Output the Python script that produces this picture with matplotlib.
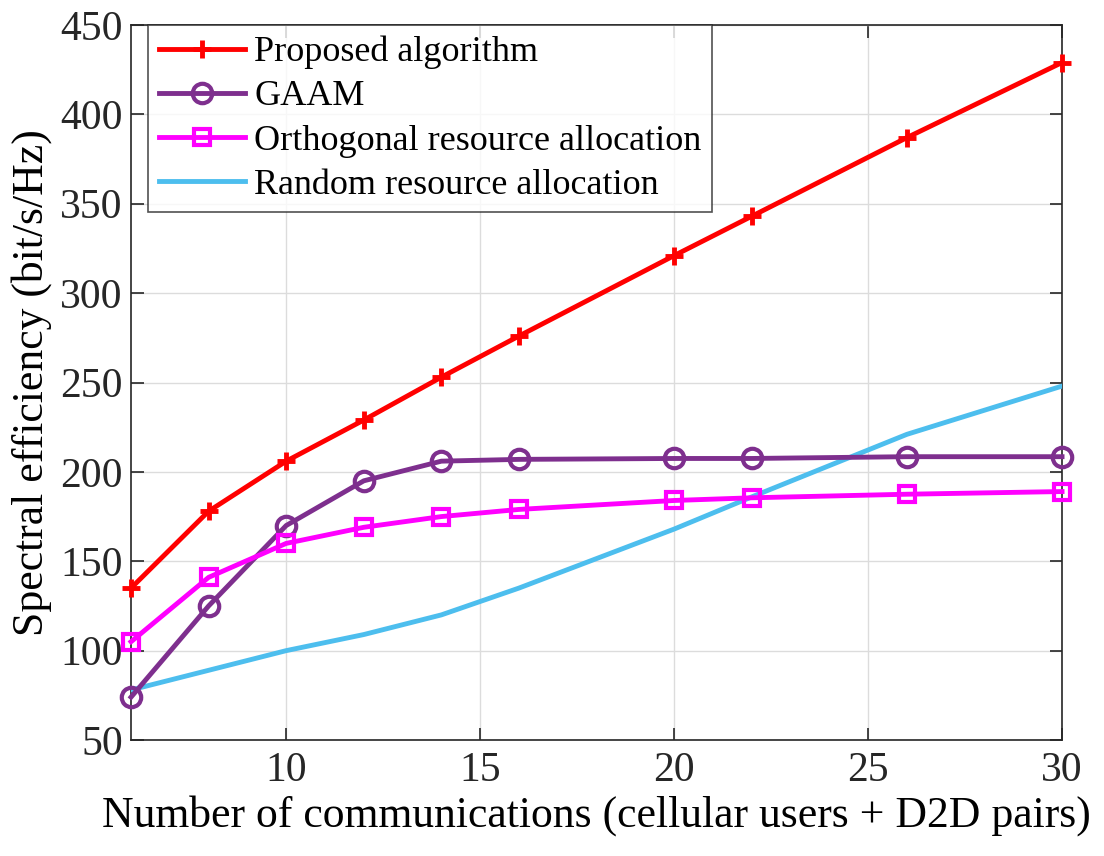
import matplotlib
matplotlib.use('Agg')
from matplotlib import pyplot as plt

# data
x = [6, 8, 10, 12, 14, 16, 20, 22, 26, 30]
proposed = [135, 178, 206, 229, 253, 276, 321, 343, 387, 429]
gaam = [74, 125, 170, 195, 206, 207, 207.5, 207.5, 208.5, 208.5]
orthogonal = [105, 141, 160, 169, 175, 179, 184, 185.5, 187.5, 189]
random_alloc = [78, 89, 100, 109, 120, 135, 168, 186, 221, 248]

plt.rcParams['font.family'] = ['Liberation Serif', 'DejaVu Serif']

fig = plt.figure(figsize=(11.04, 8.56), dpi=100)
ax = fig.add_axes([0.1187, 0.1355, 0.8433, 0.8353])

ax.plot(x, proposed, c='#ff0000', lw=3.5, marker='+', ms=13, mew=3.5,
        label='Proposed algorithm', clip_on=False, zorder=5)
ax.plot(x, gaam, c='#7e2f8e', lw=3.5, marker='o', ms=14, mew=3, mfc='none',
        label='GAAM', clip_on=False, zorder=4)
ax.plot(x, orthogonal, c='#ff00ff', lw=3.5, marker='s', ms=12, mew=3, mfc='none',
        label='Orthogonal resource allocation', clip_on=False, zorder=4)
ax.plot(x, random_alloc, c='#4dbeee', lw=3.5, label='Random resource allocation',
        zorder=3)

ax.set_xlim(6, 30)
ax.set_ylim(50, 450)
ax.set_xticks([10, 15, 20, 25, 30])
ax.set_yticks(range(50, 451, 50))
ax.grid(True, color='#dcdcdc', lw=1)
ax.set_axisbelow(True)
ax.tick_params(axis='both', direction='in', length=9, width=1.2,
               top=True, right=True, labelsize=30, colors='#262626')
ax.tick_params(axis='x', pad=8)
ax.tick_params(axis='y', pad=6)
for s in ax.spines.values():
    s.set_color('#262626')
    s.set_linewidth(1.2)

ax.set_xlabel('Number of communications (cellular users + D2D pairs)',
              fontsize=31.5, labelpad=4)
ax.set_ylabel('Spectral efficiency (bit/s/Hz)', fontsize=31.5, labelpad=6)

leg = ax.legend(loc='upper left', bbox_to_anchor=(0.018, 1.0), fontsize=26,
                frameon=True, fancybox=False, edgecolor='#262626',
                borderaxespad=0.0, handlelength=2.4, handletextpad=0.25,
                labelspacing=0.3, borderpad=0.3)
leg.get_frame().set_linewidth(1.2)
leg.set_zorder(10)

fig.savefig('out.png', dpi=100)
